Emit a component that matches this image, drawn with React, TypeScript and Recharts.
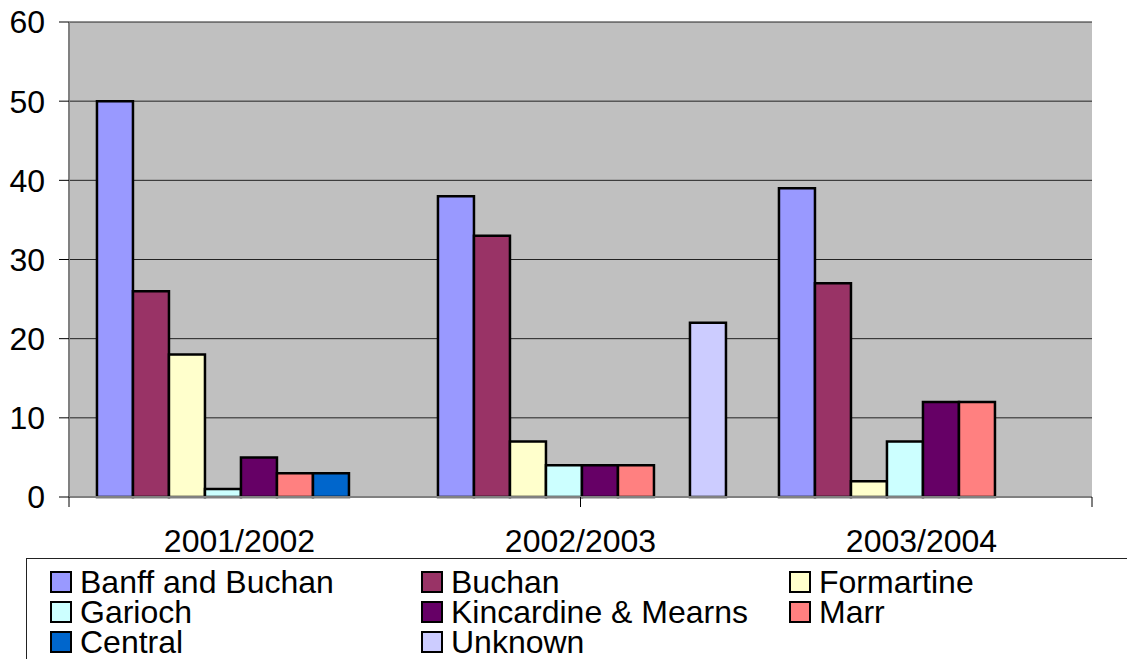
import React from "react";
import { BarChart, Bar, CartesianGrid, XAxis, YAxis } from "recharts";

const years = ["2001/2002", "2002/2003", "2003/2004"];

const banff = [50, 38, 39];
const buchan = [26, 33, 27];
const formartine = [18, 7, 2];
const garioch = [1, 4, 7];
const kincardine = [5, 4, 12];
const marr = [3, 4, 12];
const central = [3, null, null];
const unknown = [null, 22, null];

const yTicks = [0, 10, 20, 30, 40, 50, 60];

const series = [
  { key: "banff", name: "Banff and Buchan", color: "#9999FF", values: banff },
  { key: "buchan", name: "Buchan", color: "#993366", values: buchan },
  { key: "formartine", name: "Formartine", color: "#FFFFCC", values: formartine },
  { key: "garioch", name: "Garioch", color: "#CCFFFF", values: garioch },
  { key: "kincardine", name: "Kincardine & Mearns", color: "#660066", values: kincardine },
  { key: "marr", name: "Marr", color: "#FF8080", values: marr },
  { key: "central", name: "Central", color: "#0066CC", values: central },
  { key: "unknown", name: "Unknown", color: "#CCCCFF", values: unknown },
];

const data = years.map((year, i) => {
  const row: Record<string, any> = { year };
  series.forEach((s) => (row[s.key] = s.values[i]));
  return row;
});

const font = "Arial, 'Liberation Sans', sans-serif";
const fs = 32;
const legendCols = [50, 421, 789];

export default function App() {
  return (
    <div style={{ position: "absolute", left: 0, top: 0, width: 1127, height: 659, background: "#fff", overflow: "hidden", fontFamily: font }}>
      <BarChart
        width={1127}
        height={659}
        data={data}
        margin={{ top: 22, right: 35, left: 0, bottom: 102 }}
        barCategoryGap="8.2%"
        barGap={0}
      >
        <CartesianGrid vertical={false} stroke="#222" fill="#C0C0C0" fillOpacity={1} xAxisId="c" />
        <XAxis
          xAxisId="a"
          type="number"
          domain={[0, 3]}
          ticks={[0, 1, 2, 3]}
          tickFormatter={() => ""}
          tickSize={10}
          height={10}
          stroke="#000"
          axisLine={{ stroke: "#808080", strokeWidth: 2 }}
        />
        <XAxis
          xAxisId="c"
          dataKey="year"
          axisLine={false}
          tickLine={false}
          tickSize={0}
          tickMargin={22}
          height={50}
          interval={0}
          tick={{ fill: "#000", fontSize: fs, fontFamily: font }}
        />
        <YAxis
          domain={[0, 60]}
          ticks={yTicks}
          width={69}
          tickSize={10}
          tickMargin={14}
          interval={0}
          stroke="#000"
          axisLine={{ stroke: "#808080", strokeWidth: 2 }}
          tick={{ fill: "#000", fontSize: fs, fontFamily: font }}
        />
        <YAxis
          yAxisId="r"
          orientation="right"
          width={0}
          tick={false}
          tickLine={false}
          axisLine={{ stroke: "#808080", strokeWidth: 2 }}
        />
        {series.map((s) => (
          <Bar
            key={s.key}
            xAxisId="c"
            dataKey={s.key}
            name={s.name}
            fill={s.color}
            stroke="#000"
            strokeWidth={2.5}
            isAnimationActive={false}
          />
        ))}
      </BarChart>
      <div
        style={{
          position: "absolute",
          left: 26,
          top: 558,
          width: 1200,
          height: 200,
          borderTop: "1px solid #222",
          borderLeft: "1px solid #222",
        }}
      />
      {series.map((s, i) => {
        const col = i % 3;
        const row = Math.floor(i / 3);
        const cy = 582 + row * 30;
        return (
          <div
            key={s.key}
            style={{
              position: "absolute",
              left: legendCols[col],
              top: cy - 15,
              height: 30,
              lineHeight: "30px",
              display: "flex",
              alignItems: "center",
              fontSize: fs,
              color: "#000",
              whiteSpace: "nowrap",
            }}
          >
            <span
              style={{
                display: "inline-block",
                width: 18,
                height: 18,
                background: s.color,
                border: "2px solid #000",
                marginRight: 8,
              }}
            />
            {s.name}
          </div>
        );
      })}
    </div>
  );
}
